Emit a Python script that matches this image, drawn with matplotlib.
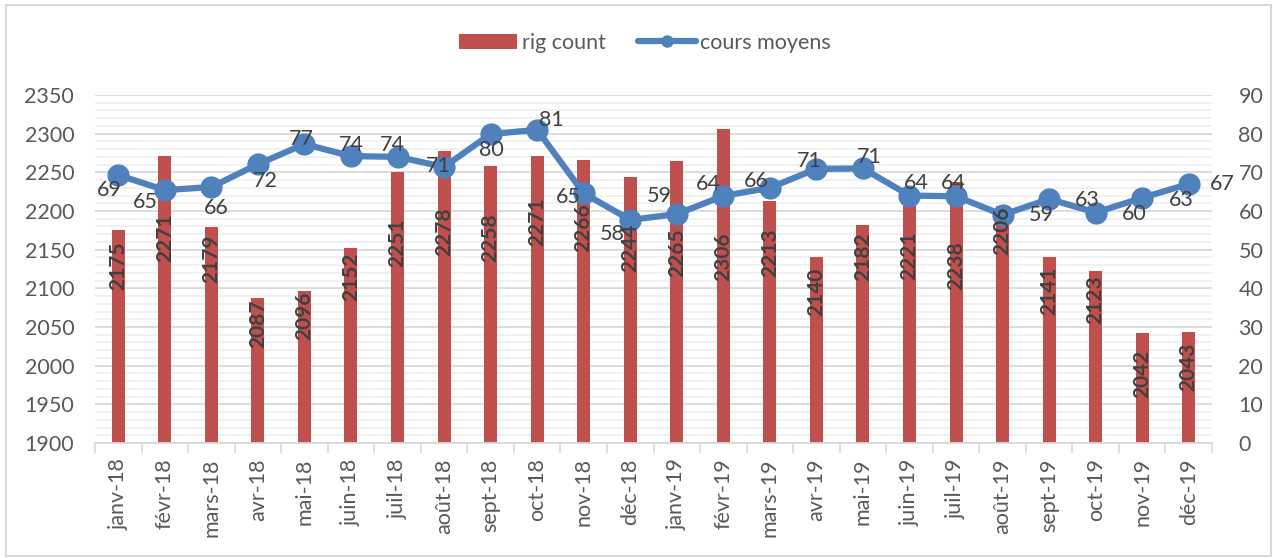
import matplotlib
matplotlib.use("Agg")
import matplotlib.pyplot as plt
from matplotlib.lines import Line2D
from matplotlib.patches import Patch, Rectangle
import numpy as np

plt.rcParams['font.family'] = ['Lato', 'DejaVu Sans']

months = ["janv-18", "févr-18", "mars-18", "avr-18", "mai-18", "juin-18", "juil-18",
          "août-18", "sept-18", "oct-18", "nov-18", "déc-18", "janv-19", "févr-19",
          "mars-19", "avr-19", "mai-19", "juin-19", "juil-19", "août-19", "sept-19",
          "oct-19", "nov-19", "déc-19"]
rig_count = [2175, 2271, 2179, 2087, 2096, 2152, 2251, 2278, 2258, 2271, 2266, 2244,
             2265, 2306, 2213, 2140, 2182, 2221, 2238, 2206, 2141, 2123, 2042, 2043]
cours_moyens = [69.3, 65.4, 66.2, 72.1, 77.3, 74.2, 74.0, 71.4, 79.9, 81.0, 64.6, 57.7,
                59.2, 63.9, 66.0, 70.9, 71.0, 64.0, 63.8, 59.0, 63.1, 59.6, 63.4, 67.0]

# annotation placement (data label positions as in the reference)
bar_label_y = [2129, 2165, 2138, 2054, 2064, 2115, 2159, 2173, 2166, 2186, 2179, 2152,
               2146, 2141, 2146, 2095, 2141, 2142, 2130, 2175, 2097, 2085, 1990, 1998]
line_label_off = [(-9, -15), (-20, -12), (5, -21), (7, -17), (-3, 5), (0, 11), (-5, 12),
                  (-6, 1), (1, -16), (14, 10), (-15, -4), (-18, -14), (-17, 18), (-15, 12),
                  (-14, 7), (-7, 8), (6, 11), (7, 13), (-3, 13), (39, 0), (38, -1),
                  (39, -1), (39, -2), (34, 0)]

BAR = "#C0504D"
LINE = "#4F81BD"
TXT = "#595959"
LBL = "#404040"
GRID = "#D9D9D9"
GRID_MINOR = "#F0F0F0"
FS = 15.5

W, H = 1273, 558
fig = plt.figure(figsize=(W / 100, H / 100), dpi=100)
fig.patch.set_facecolor("white")

L, R, T, B = 95, 1212, 95, 443
ax = fig.add_axes([L / W, 1 - B / H, (R - L) / W, (B - T) / H])
ax2 = ax.twinx()

x = np.arange(len(months))
ax.bar(x, rig_count, width=0.28, color=BAR, zorder=2)
ax.set_ylim(1900, 2350)
ax.set_xlim(-0.5, len(months) - 0.5)
ax.set_yticks(np.arange(1900, 2351, 50))
ax.set_yticks(np.arange(1900, 2351, 10), minor=True)
ax.set_axisbelow(True)
ax.grid(axis="y", which="major", color=GRID, lw=1.3)
ax.grid(axis="y", which="minor", color=GRID_MINOR, lw=1.3)

ax.set_xticks(x)
ax.set_xticklabels(months, rotation=90, fontsize=FS, color=TXT)
ax.set_xticks(np.arange(-0.5, len(months), 1.0), minor=True)
ax.tick_params(axis="x", which="major", length=0, pad=11)
ax.tick_params(axis="x", which="minor", length=7, width=1.2, color=GRID)
ax.tick_params(axis="y", which="both", length=0, labelsize=FS, labelcolor=TXT, pad=15)
ax.tick_params(axis="y", which="minor", length=0)

for s in ["top", "left", "right"]:
    ax.spines[s].set_visible(False)
    ax2.spines[s].set_visible(False)
ax.spines["bottom"].set_color(GRID)
ax.spines["bottom"].set_linewidth(1.3)
ax2.spines["bottom"].set_visible(False)

ax2.plot(x, cours_moyens, color=LINE, lw=4.5, marker="o", markersize=15, zorder=3,
         solid_capstyle="round", solid_joinstyle="round")
ax2.set_ylim(0, 90)
ax2.set_yticks(np.arange(0, 91, 10))
ax2.tick_params(axis="y", length=0, labelsize=FS, labelcolor=TXT, pad=19)

for xi, v, (dx, dy) in zip(x, cours_moyens, line_label_off):
    ax2.annotate(f"{v:.0f}", (xi, v), xytext=(dx * 0.72, dy * 0.72), textcoords="offset points",
                 ha="center", va="center", fontsize=FS, color=LBL, zorder=5)

for xi, v, yl in zip(x, rig_count, bar_label_y):
    ax2.text(xi, yl, f"{v}", transform=ax.transData, rotation=90, ha="center", va="center",
             fontsize=15, fontweight="bold", color=LBL, zorder=6)

handles = [Patch(facecolor=BAR, edgecolor="none"),
           Line2D([0], [0], color=LINE, lw=4.5, marker="o", markersize=8,
                  solid_capstyle="round")]
fig.legend(handles, ["rig count", "cours moyens"], loc="center",
           bbox_to_anchor=(645 / W, 1 - 43 / H), ncol=2, frameon=False,
           fontsize=FS, labelcolor=TXT, handlelength=2.7, handleheight=0.75,
           handletextpad=0.2, columnspacing=1.5)

fig.add_artist(Rectangle((6 / W, 1 - 556 / H), (1271 - 6) / W, (556 - 5) / H,
                         transform=fig.transFigure, fill=False, edgecolor=GRID, lw=1.5))

fig.savefig("out.png", dpi=100, facecolor="white")
